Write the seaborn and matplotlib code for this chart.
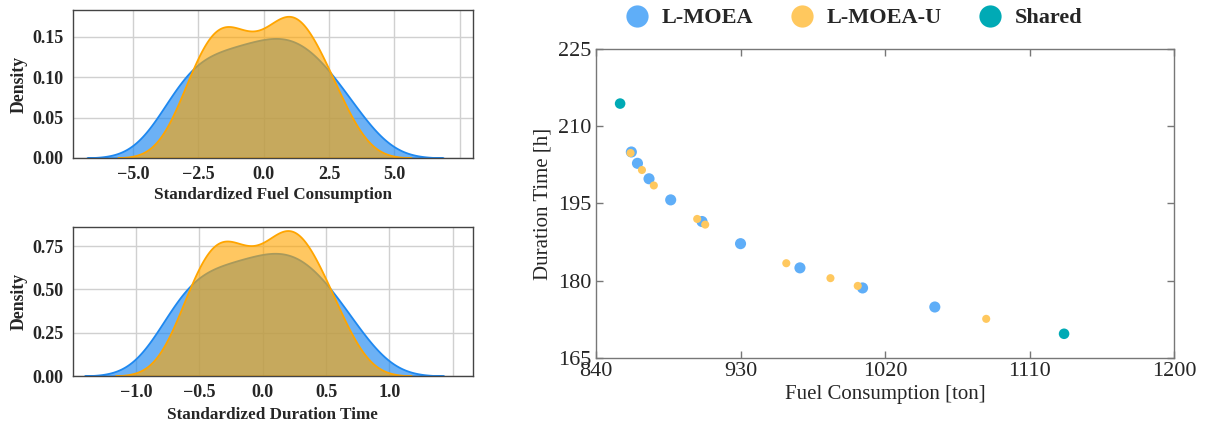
import numpy as np
import pandas as pd
import matplotlib
matplotlib.use('Agg')
import matplotlib.pyplot as plt
import seaborn as sns
from matplotlib.lines import Line2D

# standardized samples behind the density curves
fuel_lmoea = [-3.6, -3.2, -2.8, -2.4, -2.02, -1.64, -1.26, -0.9, -0.54, -0.19,
              0.15, 0.47, 0.79, 1.1, 1.41, 1.72, 2.1, 2.5, 3.0, 3.7]
fuel_lmoea_u = [-2.95, -2.6, -2.25, -1.95, -1.68, -1.45, -1.22, -0.95, -0.55, -0.15,
                0.3, 0.6, 0.82, 1.0, 1.2, 1.45, 1.75, 2.1, 2.5, 3.0]
dur_lmoea = [-0.75, -0.667, -0.583, -0.5, -0.421, -0.342, -0.263, -0.188, -0.113, -0.04,
             0.031, 0.098, 0.165, 0.229, 0.294, 0.358, 0.438, 0.521, 0.625, 0.771]
dur_lmoea_u = [-0.615, -0.542, -0.469, -0.406, -0.35, -0.302, -0.254, -0.198, -0.115, -0.031,
               0.063, 0.125, 0.171, 0.208, 0.25, 0.302, 0.365, 0.438, 0.521, 0.625]

# Pareto fronts
lmoea_fuel = [862, 865.8, 873, 886.5, 906, 930, 967, 1006, 1051]
lmoea_time = [205.0, 202.8, 199.8, 195.7, 191.5, 187.2, 182.5, 178.6, 174.9]
lmoea_u_fuel = [861.5, 868.6, 876, 903, 908, 958.5, 986, 1003, 1083]
lmoea_u_time = [204.8, 201.5, 198.5, 192.0, 190.9, 183.4, 180.5, 179.0, 172.6]
shared_fuel = [855, 1131.5]
shared_time = [214.4, 169.7]

blue_kde = '#1E88F0'
orange_kde = '#FFA500'
c_blue = '#5FAEF8'
c_orange = '#FFC85E'
c_teal = '#00AAB5'

sns.set_theme(style='whitegrid')
plt.rcParams['font.family'] = ['Liberation Serif', 'DejaVu Serif']

fig = plt.figure(figsize=(12.08, 4.23), dpi=100)
ax1 = fig.add_axes([0.0604, 0.6265, 0.331, 0.350])
ax2 = fig.add_axes([0.0604, 0.111, 0.331, 0.352])
ax3 = fig.add_axes([0.4934, 0.1537, 0.4785, 0.7305])

def density(ax, a, b, xlabel, ticks, labels, ylim, yticks, xlim, lpad):
    sns.kdeplot(x=a, ax=ax, fill=True, color=blue_kde, alpha=0.65, linewidth=1.3, bw_adjust=0.9)
    sns.kdeplot(x=b, ax=ax, fill=True, color=orange_kde, alpha=0.62, linewidth=1.3, bw_adjust=0.9)
    ax.set_xlim(*xlim)
    ax.set_ylim(*ylim)
    ax.set_xticks(ticks)
    ax.set_xticklabels(labels)
    ax.set_yticks(yticks)
    ax.set_yticklabels(['%.2f' % t for t in yticks])
    ax.set_xlabel(xlabel, fontsize=12.3, fontweight='bold', labelpad=lpad)
    ax.set_ylabel('Density', fontsize=12.8, fontweight='bold', labelpad=3)
    ax.tick_params(labelsize=13, length=0)
    ax.tick_params(axis='y', pad=7)
    ax.tick_params(axis='x', pad=6)
    for lab in ax.get_xticklabels() + ax.get_yticklabels():
        lab.set_fontweight('bold')
    ax.grid(True, color='#d0d0d0', linewidth=1)
    for s in ax.spines.values():
        s.set_color('#444444')
        s.set_linewidth(1.0)

density(ax1, fuel_lmoea, fuel_lmoea_u, 'Standardized Fuel Consumption',
        [-5, -2.5, 0, 2.5, 5, 7.5], ['\u22125.0', '\u22122.5', '0.0', '2.5', '5.0', ''],
        (0, 0.183), [0, 0.05, 0.10, 0.15], (-7.3, 8.0), 3)
density(ax2, dur_lmoea, dur_lmoea_u, 'Standardized Duration Time',
        [-1.0, -0.5, 0, 0.5, 1.0, 1.5], ['\u22121.0', '\u22120.5', '0.0', '0.5', '1.0', ''],
        (0, 0.86), [0, 0.25, 0.50, 0.75], (-1.5, 1.66), 4)

# scatter of the two fronts
sns.scatterplot(x=lmoea_fuel, y=lmoea_time, ax=ax3, color=c_blue, s=64, edgecolor='none', zorder=3)
sns.scatterplot(x=lmoea_u_fuel, y=lmoea_u_time, ax=ax3, color=c_orange, s=34, edgecolor='none', zorder=4)
sns.scatterplot(x=shared_fuel, y=shared_time, ax=ax3, color=c_teal, s=58, edgecolor='none', zorder=5)
ax3.set_xlim(840, 1200)
ax3.set_ylim(165, 225)
ax3.set_xticks([840, 930, 1020, 1110, 1200])
ax3.set_yticks([165, 180, 195, 210, 225])
ax3.grid(False)
ax3.tick_params(direction='in', length=5, width=1, color='#777777', labelsize=16,
                top=True, right=True, bottom=True, left=True, pad=3)
for s in ax3.spines.values():
    s.set_color('#777777')
    s.set_linewidth(1.0)
ax3.set_xlabel('Fuel Consumption [ton]', fontsize=15, labelpad=3)
ax3.set_ylabel('Duration Time [h]', fontsize=15, labelpad=4)

handles = [Line2D([], [], marker='o', linestyle='none', markersize=16, color=c, markeredgecolor='none')
           for c in (c_blue, c_orange, c_teal)]
fig.legend(handles, ['L-MOEA', 'L-MOEA-U', 'Shared'], loc='center', ncol=3,
           bbox_to_anchor=(0.706, 0.957), frameon=False, prop={'weight': 'bold', 'size': 16},
           handletextpad=0.5, columnspacing=1.6, handlelength=1.2)

fig.savefig('out.png', dpi=100)
